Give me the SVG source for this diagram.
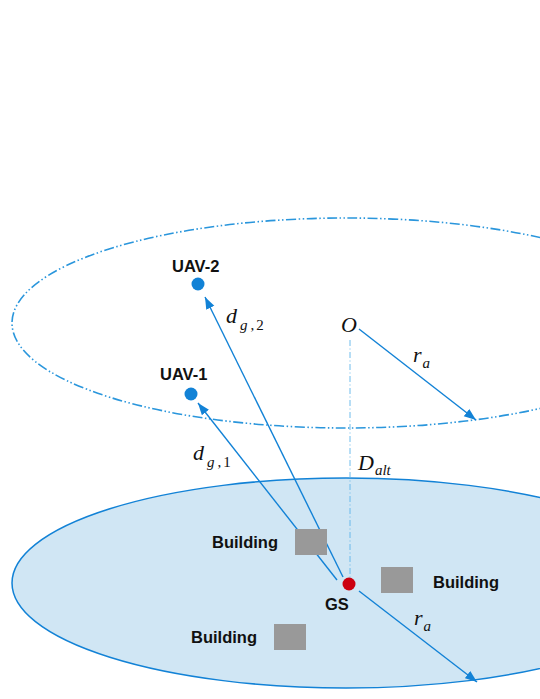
<svg xmlns="http://www.w3.org/2000/svg" width="540" height="699" viewBox="0 0 540 699">
<style>
.lbl{font-family:"Liberation Sans",Arial,sans-serif;font-weight:bold;font-size:16.5px;fill:#111}
.math{font-family:"Liberation Serif","Times New Roman",serif;font-style:italic;fill:#111}
.sub{font-size:15px}
.conn{stroke:#1282d6;stroke-width:1.4;fill:none}
.bld{fill:#999999}
</style>
<defs>
<marker id="arr" markerUnits="userSpaceOnUse" markerWidth="13" markerHeight="10" refX="12" refY="4.5" orient="auto">
<path d="M0,0 L12,4.5 L0,9 z" fill="#1282d6"/>
</marker>
</defs>
<rect width="540" height="699" fill="#ffffff"/>
<g id="ground-plane">
<ellipse cx="346" cy="583" rx="334" ry="105" fill="#d0e6f4" stroke="#1282d6" stroke-width="1.5"/>
</g>
<g id="flight-plane">
<ellipse cx="346" cy="323" rx="334" ry="105" fill="none" stroke="#2a96dc" stroke-width="1.6" stroke-dasharray="10 2.5 1.5 2.5 1.5 2.5"/>
</g>
<g id="connectors">
<line x1="350" y1="340" x2="350" y2="578" stroke="#5db4ea" stroke-width="0.9" stroke-dasharray="6 2.5 1 2.5"/>
<line class="conn" x1="359" y1="329" x2="476" y2="420" marker-end="url(#arr)"/>
<line class="conn" x1="343" y1="577" x2="205" y2="297" marker-end="url(#arr)"/>
<line class="conn" x1="337" y1="580" x2="198" y2="403" marker-end="url(#arr)"/>
<line class="conn" x1="359" y1="591" x2="477" y2="682" marker-end="url(#arr)"/>
</g>
<g id="building-1"><rect class="bld" x="295" y="529" width="32" height="26"/><text class="lbl" x="212" y="548">Building</text></g>
<g id="building-2"><rect class="bld" x="381" y="567" width="32" height="26"/><text class="lbl" x="433" y="588">Building</text></g>
<g id="building-3"><rect class="bld" x="274" y="624" width="32" height="26"/><text class="lbl" x="191" y="643">Building</text></g>
<g id="uav-2"><circle cx="198" cy="284" r="6.5" fill="#1282d6"/><text class="lbl" x="172" y="272">UAV-2</text></g>
<g id="uav-1"><circle cx="191" cy="394" r="6.5" fill="#1282d6"/><text class="lbl" x="160" y="380">UAV-1</text></g>
<g id="gs"><circle cx="349" cy="584" r="6.5" fill="#cc0010"/><text class="lbl" x="325" y="610">GS</text></g>
<g id="origin"><text class="math" x="341" y="332" font-size="22">O</text></g>
<g id="labels">
<text class="math" x="413" y="362" font-size="22">r<tspan class="sub" dx="1" dy="6">a</tspan></text>
<text class="math" x="414" y="625" font-size="22">r<tspan class="sub" dx="1" dy="6">a</tspan></text>
<text class="math" x="226" y="323" font-size="22">d<tspan class="sub" dx="3" dy="7">g</tspan><tspan class="sub" dx="3" font-style="normal">,</tspan><tspan class="sub" dx="2" font-style="normal">2</tspan></text>
<text class="math" x="193" y="460" font-size="22">d<tspan class="sub" dx="3" dy="7">g</tspan><tspan class="sub" dx="3" font-style="normal">,</tspan><tspan class="sub" dx="2" font-style="normal">1</tspan></text>
<text class="math" x="358" y="470" font-size="22">D<tspan class="sub" dx="1" dy="5">alt</tspan></text>
</g>
</svg>
